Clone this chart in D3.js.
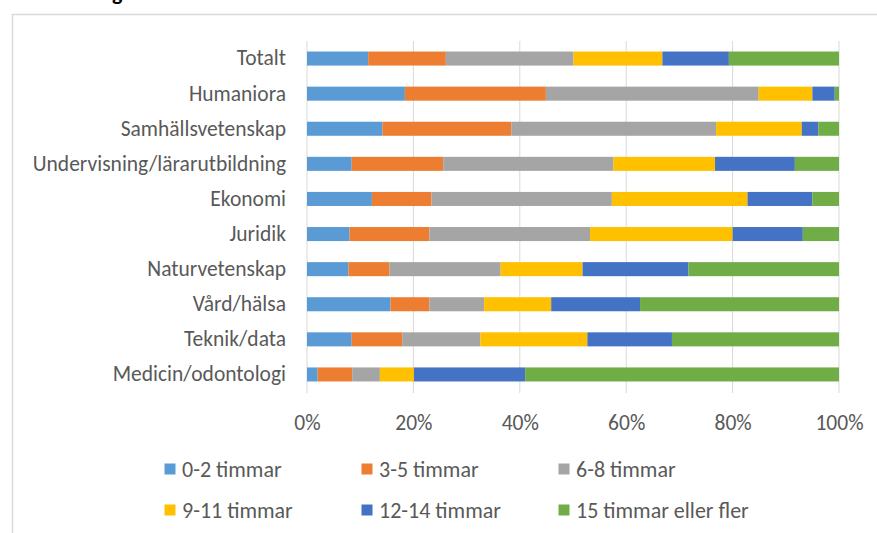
<!DOCTYPE html>
<html>
<head>
<meta charset="utf-8">
<script src="https://cdn.jsdelivr.net/npm/d3@7"></script>
<style>
  body { margin: 0; background: #fff; }
  svg text { font-family: Calibri, Carlito, Lato, sans-serif; fill: #595959; }
</style>
</head>
<body>
<svg id="chart" width="877" height="533"></svg>
<script>
var categories = ["Totalt", "Humaniora", "Samhällsvetenskap", "Undervisning/lärarutbildning",
  "Ekonomi", "Juridik", "Naturvetenskap", "Vård/hälsa", "Teknik/data", "Medicin/odontologi"];

var seriesNames = ["0-2 timmar", "3-5 timmar", "6-8 timmar", "9-11 timmar", "12-14 timmar", "15 timmar eller fler"];
var colors = ["#5b9bd5", "#ed7d31", "#a5a5a5", "#ffc000", "#4472c4", "#70ad47"];

// andel (%) per kategori, i samma ordning som categories
var h0_2   = [11.5, 18.4, 14.2,  8.4, 12.2,  8.0,  7.8, 15.7,  8.4,  2.0];
var h3_5   = [14.6, 26.5, 24.2, 17.2, 11.2, 15.0,  7.7,  7.3,  9.5,  6.5];
var h6_8   = [24.0, 40.0, 38.5, 32.0, 33.9, 30.2, 20.9, 10.3, 14.7,  5.2];
var h9_11  = [16.7, 10.1, 16.1, 19.1, 25.5, 26.8, 15.4, 12.6, 20.1,  6.4];
var h12_14 = [12.5,  4.2,  3.1, 15.0, 12.2, 13.2, 19.9, 16.7, 15.9, 20.9];
var h15    = [20.7,  0.8,  3.9,  8.3,  5.0,  6.8, 28.3, 37.4, 31.4, 59.0];

var xTicks = [0, 0.2, 0.4, 0.6, 0.8, 1];

var svg = d3.select("#chart");

// ramen runt diagrammet
svg.append("rect")
  .attr("x", 12.5).attr("y", 14.5)
  .attr("width", 900).attr("height", 600)
  .attr("fill", "none")
  .attr("stroke", "#d9d9d9")
  .attr("stroke-width", 1.5);

// rubriken syns bara som en bit av ett "g"
svg.append("text")
  .attr("x", 112).attr("y", -0.5)
  .style("font-weight", "bold")
  .style("font-size", "22px")
  .style("fill", "#000")
  .text("g");

var rows = categories.map(function(c, i) {
  return {
    cat: c,
    "0-2 timmar": h0_2[i],
    "3-5 timmar": h3_5[i],
    "6-8 timmar": h6_8[i],
    "9-11 timmar": h9_11[i],
    "12-14 timmar": h12_14[i],
    "15 timmar eller fler": h15[i]
  };
});

var stacked = d3.stack()
  .keys(seriesNames)
  .offset(d3.stackOffsetExpand)(rows);

var x = d3.scaleLinear().domain([0, 1]).range([307, 839]);
var y = d3.scaleBand()
  .domain(categories)
  .range([41, 392])
  .paddingInner(0.6)
  .paddingOuter(0.3);

// stödlinjer
svg.append("g").selectAll("line")
  .data(xTicks)
  .enter().append("line")
  .attr("x1", function(d) { return x(d); })
  .attr("x2", function(d) { return x(d); })
  .attr("y1", 41).attr("y2", 393)
  .attr("stroke", "#d9d9d9")
  .attr("stroke-width", 1);

var layers = svg.append("g").selectAll("g")
  .data(stacked)
  .enter().append("g")
  .attr("fill", function(d, i) { return colors[i]; });

layers.selectAll("rect")
  .data(function(d) { return d; })
  .enter().append("rect")
  .attr("x", function(d) { return x(d[0]); })
  .attr("width", function(d) { return x(d[1]) - x(d[0]); })
  .attr("y", function(d) { return y(d.data.cat); })
  .attr("height", y.bandwidth());

var xAxis = svg.append("g")
  .attr("transform", "translate(0,392)")
  .call(d3.axisBottom(x).tickValues(xTicks).tickFormat(d3.format(".0%")).tickSize(0).tickPadding(23));
xAxis.select(".domain").remove();
xAxis.selectAll("text").style("font-size", "21.5px");

var yAxis = svg.append("g")
  .attr("transform", "translate(307,0)")
  .call(d3.axisLeft(y).tickSize(0).tickPadding(21));
yAxis.select(".domain").remove();
yAxis.selectAll("text").style("font-size", "21.5px");

// förklaring
var legend = svg.append("g").selectAll("g")
  .data(seriesNames)
  .enter().append("g")
  .attr("transform", function(d, i) {
    return "translate(" + (164.5 + (i % 3) * 197) + "," + (i < 3 ? 469 : 510) + ")";
  });

legend.append("rect")
  .attr("x", 0).attr("y", -5.5)
  .attr("width", 11).attr("height", 11)
  .attr("fill", function(d, i) { return colors[i]; });

legend.append("text")
  .attr("x", 17.5).attr("y", 0)
  .attr("dy", "0.35em")
  .style("font-size", "22px")
  .text(function(d) { return d; });
</script>
</body>
</html>
